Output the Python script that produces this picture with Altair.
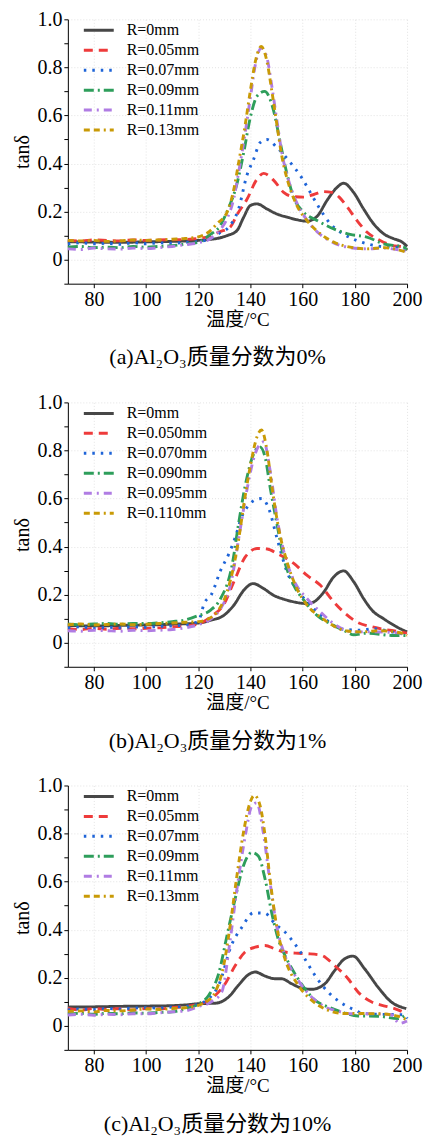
import altair as alt
import pandas as pd

# ---------------- shared styling lists ----------------
colors = ["#474747", "#EE3B3B", "#1E64D8", "#2E9E5B", "#B07CE3", "#C99A06"]
dashes = [[1, 0], [9, 6], [2.5, 6], [10, 4, 2, 4], [8, 5, 2, 5], [6, 4, 6, 4, 2, 4]]
x_ticks = [80, 100, 120, 140, 160, 180, 200]
y_ticks = [-0.1, 0.0, 0.1, 0.2, 0.3, 0.4, 0.5, 0.6, 0.7, 0.8, 0.9, 1.0]

# ---------------- panel (a) ----------------
a_caption = "(a)Al₂O₃质量分数为0%"
a_labels = ["R=0mm", "R=0.05mm", "R=0.07mm", "R=0.09mm", "R=0.11mm", "R=0.13mm"]
a0_t = [70, 80, 90, 100, 110, 120, 125, 128, 131, 134.8, 137.4, 139.9, 142.5, 146.3, 150.1, 154, 157.8, 161.6, 165.5, 169.3, 173.1, 175.7, 179.5, 183.4, 187.2, 191, 194.9, 198, 200]
a0_v = [0.075, 0.073, 0.072, 0.074, 0.076, 0.08, 0.085, 0.09, 0.1, 0.121, 0.177, 0.225, 0.232, 0.211, 0.19, 0.177, 0.166, 0.16, 0.18, 0.246, 0.30, 0.318, 0.28, 0.21, 0.149, 0.108, 0.087, 0.074, 0.055]
a1_t = [70, 75, 80, 85, 90, 95, 100, 105, 110, 115, 120, 125, 128, 132.2, 135, 138.6, 142.5, 145, 148.9, 152.7, 156.5, 160.4, 164, 168, 171.2, 174, 177, 180.8, 184.6, 189.7, 194, 198.7, 200]
a1_v = [0.08, 0.078, 0.082, 0.08, 0.078, 0.082, 0.08, 0.082, 0.083, 0.084, 0.088, 0.1, 0.115, 0.135, 0.19, 0.25, 0.335, 0.359, 0.33, 0.28, 0.262, 0.26, 0.27, 0.283, 0.28, 0.26, 0.22, 0.163, 0.115, 0.08, 0.06, 0.052, 0.04]
a2_t = [70, 75, 80, 85, 90, 95, 100, 105, 110, 115, 120, 125, 128, 131.6, 135.4, 138.6, 141.2, 143.7, 146.3, 150.1, 155.2, 159.7, 162.9, 166.1, 170.6, 174.4, 178.5, 184.6, 189.7, 197.3, 200]
a2_v = [0.065, 0.07, 0.066, 0.068, 0.064, 0.07, 0.066, 0.07, 0.068, 0.072, 0.075, 0.09, 0.11, 0.135, 0.21, 0.35, 0.418, 0.487, 0.50, 0.467, 0.405, 0.34, 0.28, 0.22, 0.149, 0.115, 0.09, 0.066, 0.055, 0.05, 0.04]
a3_t = [70, 75, 80, 85, 90, 95, 100, 105, 110, 115, 120, 124, 128.4, 131, 134.8, 137.4, 139.9, 142.5, 145.4, 148.9, 151.4, 154, 156.5, 160.4, 165.5, 171.9, 178.2, 184.6, 191, 198.7, 200]
a3_v = [0.052, 0.055, 0.05, 0.052, 0.05, 0.055, 0.052, 0.055, 0.058, 0.065, 0.072, 0.1, 0.142, 0.2, 0.315, 0.446, 0.59, 0.68, 0.70, 0.618, 0.487, 0.356, 0.26, 0.197, 0.163, 0.128, 0.105, 0.094, 0.066, 0.052, 0.04]
a4_t = [70, 75, 80, 85, 90, 95, 100, 105, 110, 115, 120, 125, 128, 131, 133.5, 135.4, 138, 139.9, 142.2, 144.1, 146.3, 148.2, 150.1, 152.1, 154.6, 157.8, 161.6, 166.7, 171.9, 178.2, 184.6, 191, 197.4, 200]
a4_v = [0.045, 0.042, 0.048, 0.045, 0.044, 0.048, 0.046, 0.05, 0.055, 0.062, 0.07, 0.09, 0.12, 0.17, 0.25, 0.36, 0.53, 0.67, 0.83, 0.88, 0.84, 0.72, 0.58, 0.44, 0.33, 0.235, 0.165, 0.105, 0.07, 0.05, 0.045, 0.048, 0.04, 0.035]
a5_t = [70, 75, 80, 85, 90, 95, 100, 105, 110, 115, 120, 124, 127.1, 131, 133.5, 135.4, 138, 139.9, 142.2, 144.1, 146.3, 148.2, 150.1, 152.1, 154.6, 157.8, 161.6, 166.7, 171.9, 178.2, 184.6, 191, 197.4, 200]
a5_v = [0.08, 0.078, 0.08, 0.076, 0.078, 0.082, 0.08, 0.082, 0.085, 0.088, 0.095, 0.115, 0.149, 0.197, 0.287, 0.40, 0.563, 0.70, 0.84, 0.887, 0.825, 0.70, 0.563, 0.425, 0.315, 0.225, 0.163, 0.108, 0.073, 0.052, 0.045, 0.05, 0.039, 0.03]

# ---------------- panel (b) ----------------
b_caption = "(b)Al₂O₃质量分数为1%"
b_labels = ["R=0mm", "R=0.050mm", "R=0.070mm", "R=0.090mm", "R=0.095mm", "R=0.110mm"]
b0_t = [70, 80, 90, 100, 110, 120, 124.6, 129.8, 133.6, 137.4, 141, 145.1, 148.9, 152.8, 156.6, 161.7, 164.3, 168.1, 171.9, 175.7, 179.6, 183.4, 186.6, 191, 196.2, 200]
b0_v = [0.072, 0.07, 0.072, 0.074, 0.077, 0.082, 0.093, 0.114, 0.156, 0.218, 0.246, 0.225, 0.197, 0.181, 0.17, 0.163, 0.17, 0.211, 0.274, 0.299, 0.253, 0.183, 0.135, 0.1, 0.065, 0.045]
b1_t = [70, 75, 80, 85, 90, 95, 100, 105, 110, 115, 120, 125, 129.8, 133.6, 138, 142.5, 146.4, 150.2, 156.6, 161.7, 166.8, 171.9, 175.7, 180.8, 187.2, 197.4, 200]
b1_v = [0.06, 0.055, 0.06, 0.056, 0.06, 0.058, 0.06, 0.062, 0.066, 0.07, 0.078, 0.11, 0.16, 0.253, 0.357, 0.392, 0.39, 0.371, 0.33, 0.28, 0.239, 0.17, 0.128, 0.086, 0.065, 0.045, 0.04]
b2_t = [70, 75, 80, 85, 90, 95, 100, 105, 110, 115, 120, 122.3, 125, 128.5, 131.7, 134.2, 136.5, 139.3, 142, 144.4, 147, 150.2, 154, 159.1, 164.3, 169.3, 174.4, 182.1, 187.2, 197.4, 200]
b2_v = [0.062, 0.066, 0.06, 0.064, 0.062, 0.066, 0.064, 0.068, 0.07, 0.074, 0.09, 0.165, 0.2, 0.30, 0.37, 0.44, 0.52, 0.572, 0.595, 0.60, 0.558, 0.433, 0.295, 0.204, 0.142, 0.093, 0.058, 0.052, 0.058, 0.038, 0.035]
b3_t = [70, 75, 80, 85, 90, 95, 100, 105, 110, 115, 119.5, 124.6, 128.5, 132.9, 135.5, 138, 141.3, 143.6, 145.7, 147.6, 150.2, 152.8, 156.6, 160.4, 165.5, 170.6, 175.7, 179.6, 184.7, 194.9, 200]
b3_v = [0.078, 0.075, 0.078, 0.08, 0.077, 0.08, 0.08, 0.083, 0.088, 0.095, 0.111, 0.135, 0.183, 0.32, 0.50, 0.655, 0.788, 0.815, 0.767, 0.642, 0.49, 0.35, 0.239, 0.177, 0.114, 0.079, 0.052, 0.033, 0.04, 0.03, 0.03]
b4_t = [70, 75, 80, 85, 90, 95, 100, 105, 110, 115, 120, 125, 129, 132.3, 136.1, 138.7, 141.9, 145.1, 147.6, 150.2, 152.8, 156.6, 161.7, 166.8, 171.9, 179.6, 187.2, 197.4, 200]
b4_v = [0.05, 0.048, 0.052, 0.05, 0.048, 0.052, 0.05, 0.052, 0.055, 0.062, 0.075, 0.1, 0.15, 0.239, 0.475, 0.64, 0.79, 0.836, 0.711, 0.517, 0.378, 0.26, 0.183, 0.128, 0.079, 0.045, 0.045, 0.04, 0.035]
b5_t = [70, 75, 80, 85, 90, 95, 100, 105, 110, 115, 120, 124, 127.2, 131, 133.6, 135.5, 137.4, 140, 142.5, 144.2, 146.4, 148.3, 150.8, 154, 157.8, 161.7, 166.8, 171.9, 177, 182.1, 189.8, 198.7, 200]
b5_v = [0.075, 0.078, 0.074, 0.076, 0.078, 0.075, 0.077, 0.08, 0.082, 0.085, 0.088, 0.1, 0.128, 0.211, 0.32, 0.433, 0.572, 0.739, 0.857, 0.885, 0.795, 0.642, 0.475, 0.336, 0.225, 0.156, 0.107, 0.07, 0.049, 0.045, 0.05, 0.038, 0.03]

# ---------------- panel (c) ----------------
c_caption = "(c)Al₂O₃质量分数为10%"
c_labels = ["R=0mm", "R=0.05mm", "R=0.07mm", "R=0.09mm", "R=0.11mm", "R=0.13mm"]
c0_t = [70, 80, 90, 100, 110, 115, 120.1, 126.5, 131.6, 135.4, 139.2, 141.8, 145.6, 149.4, 151.9, 155.8, 159.6, 163.4, 168.5, 172.3, 176.1, 179.3, 183.7, 188.8, 193.9, 199.7]
c0_v = [0.078, 0.079, 0.081, 0.082, 0.084, 0.087, 0.092, 0.094, 0.12, 0.169, 0.213, 0.224, 0.207, 0.196, 0.196, 0.175, 0.157, 0.152, 0.175, 0.231, 0.279, 0.29, 0.238, 0.162, 0.1, 0.072]
c1_t = [70, 75, 80, 85, 90, 95, 100, 105, 110, 115, 120, 123, 126.5, 130.3, 134.1, 137.9, 141.8, 145.6, 149.4, 153.2, 158.3, 162.1, 167.2, 172.3, 177.4, 181.2, 186.3, 190.1, 195.2, 200]
c1_v = [0.072, 0.066, 0.072, 0.068, 0.072, 0.066, 0.072, 0.07, 0.076, 0.08, 0.09, 0.1, 0.127, 0.175, 0.25, 0.307, 0.327, 0.334, 0.32, 0.307, 0.302, 0.30, 0.293, 0.25, 0.196, 0.141, 0.1, 0.086, 0.072, 0.05]
c2_t = [70, 75, 80, 85, 90, 95, 100, 105, 110, 115, 120, 124, 127.8, 132.9, 136.7, 141.1, 145.6, 149.4, 153.2, 157, 160.8, 164.7, 169.7, 174.2, 178.7, 183.7, 190.1, 199, 200]
c2_v = [0.066, 0.07, 0.068, 0.072, 0.07, 0.074, 0.075, 0.074, 0.078, 0.08, 0.09, 0.113, 0.169, 0.341, 0.41, 0.47, 0.468, 0.424, 0.39, 0.341, 0.279, 0.21, 0.141, 0.1, 0.072, 0.051, 0.048, 0.046, 0.03]
c3_t = [70, 75, 80, 85, 90, 95, 100, 105, 110, 115, 120, 124, 127.8, 131, 134.1, 137.3, 140.5, 143, 145.6, 148.1, 150.6, 153.2, 157, 160.8, 164.7, 169.7, 174.8, 181.2, 188.8, 196.4, 200]
c3_v = [0.05, 0.052, 0.048, 0.052, 0.05, 0.054, 0.052, 0.056, 0.058, 0.07, 0.09, 0.127, 0.217, 0.376, 0.528, 0.666, 0.721, 0.707, 0.61, 0.472, 0.362, 0.293, 0.217, 0.155, 0.107, 0.079, 0.058, 0.041, 0.04, 0.03, 0.05]
c4_t = [70, 75, 80, 85, 90, 95, 100, 105, 110, 115, 120, 125, 129, 132.1, 134.8, 138, 140.5, 142.4, 144.9, 147.5, 150, 153.2, 158.3, 163.4, 168.5, 173.5, 178.7, 186.3, 193.9, 197.1, 200]
c4_v = [0.045, 0.048, 0.044, 0.048, 0.046, 0.05, 0.05, 0.054, 0.058, 0.062, 0.08, 0.1, 0.141, 0.348, 0.569, 0.79, 0.915, 0.928, 0.804, 0.597, 0.417, 0.293, 0.189, 0.12, 0.079, 0.061, 0.05, 0.05, 0.046, 0.01, 0.02]
c5_t = [70, 75, 80, 85, 90, 95, 100, 105, 110, 115, 120, 123, 126.5, 129.7, 132.2, 134.8, 137.3, 139.8, 141.5, 143.7, 145.6, 147.5, 150, 153.2, 158.3, 163.4, 169.7, 176.1, 183.7, 190.1, 196.4, 200]
c5_v = [0.06, 0.062, 0.058, 0.064, 0.062, 0.066, 0.07, 0.068, 0.072, 0.075, 0.085, 0.1, 0.141, 0.25, 0.417, 0.625, 0.804, 0.928, 0.959, 0.915, 0.79, 0.61, 0.417, 0.279, 0.169, 0.107, 0.065, 0.051, 0.051, 0.05, 0.04, 0.025]

SERIF = "Liberation Serif, Times New Roman, serif"
MIXED = "Liberation Serif, Times New Roman, Noto Sans CJK SC, serif"


def panel(labels, temps, vals, caption):
    rows = []
    for k, (lab, ts, vs) in enumerate(zip(labels, temps, vals)):
        for t, v in zip(ts, vs):
            rows.append({"T": t, "v": v, "series": lab, "k": k})
    df = pd.DataFrame(rows)

    leg = alt.Legend(
        title=None, orient="none", legendX=16, legendY=2,
        symbolType="M-2,0H2", symbolSize=225, symbolStrokeWidth=3,
        symbolOffset=6, labelOffset=19,
        labelFont=SERIF, labelFontSize=16, labelColor="black",
        rowPadding=3,
    )
    xaxis = alt.Axis(
        values=x_ticks, title="温度/°C", titleFont=MIXED, titleFontSize=19,
        titleFontWeight="normal", titleColor="black", titlePadding=1,
        labelFont=MIXED, labelFontSize=20, labelColor="black", labelPadding=2,
        labelFlush=False, labelOverlap=False,
        tickSize=4, tickColor="black", domainColor="black",
        grid=True, gridColor="#dcdcdc", gridDash=[1, 2], gridWidth=0.8,
    )
    yaxis = alt.Axis(
        values=y_ticks, title="tanδ", titleFont=MIXED, titleFontSize=20,
        titleFontWeight="normal", titleColor="black", titlePadding=4,
        labelFont=MIXED, labelFontSize=20, labelColor="black", labelPadding=2,
        labelOverlap=False,
        labelExpr="round(datum.value*10) % 2 != 0 ? '' : (abs(datum.value) < 0.001 ? '0' : format(datum.value, '.1f'))",
        tickSize=4, tickColor="black", domainColor="black",
        grid=True, gridColor="#dcdcdc", gridDash=[1, 2], gridWidth=0.8,
        gridOpacity={"condition": {"test": "round(datum.value*10) % 2 != 0", "value": 0}, "value": 1},
    )
    chart = alt.Chart(df).mark_line(
        interpolate="monotone", strokeWidth=2.9, strokeCap="butt"
    ).encode(
        x=alt.X("T:Q", scale=alt.Scale(domain=[70, 200], nice=False, zero=False), axis=xaxis),
        y=alt.Y("v:Q", scale=alt.Scale(domain=[-0.1, 1.0], nice=False, zero=False), axis=yaxis),
        color=alt.Color("series:N", scale=alt.Scale(domain=labels, range=colors), legend=leg, sort=labels),
        strokeDash=alt.StrokeDash("series:N", scale=alt.Scale(domain=labels, range=dashes), legend=leg, sort=labels),
    ).properties(
        width=340, height=265,
        title=alt.TitleParams(
            text=caption, orient="bottom", anchor="middle", frame="bounds",
            font=MIXED, fontSize=22, fontWeight="normal", color="black", offset=18,
        ),
    )
    return chart


pa = panel(a_labels, [a0_t, a1_t, a2_t, a3_t, a4_t, a5_t], [a0_v, a1_v, a2_v, a3_v, a4_v, a5_v], a_caption)
pb = panel(b_labels, [b0_t, b1_t, b2_t, b3_t, b4_t, b5_t], [b0_v, b1_v, b2_v, b3_v, b4_v, b5_v], b_caption)
pc = panel(c_labels, [c0_t, c1_t, c2_t, c3_t, c4_t, c5_t], [c0_v, c1_v, c2_v, c3_v, c4_v, c5_v], c_caption)

chart = alt.vconcat(pa, pb, pc, spacing=24).resolve_scale(
    color="independent", strokeDash="independent"
).resolve_legend(
    color="independent", strokeDash="independent"
).properties(
    padding={"left": 5, "top": 0, "right": 5, "bottom": 0}
).configure(
    background="white", font=MIXED
).configure_axis(
    labelFont=MIXED, titleFont=MIXED
).configure_view(strokeWidth=0)

chart.save("out.html", embed_options={"renderer": "svg", "actions": False})
